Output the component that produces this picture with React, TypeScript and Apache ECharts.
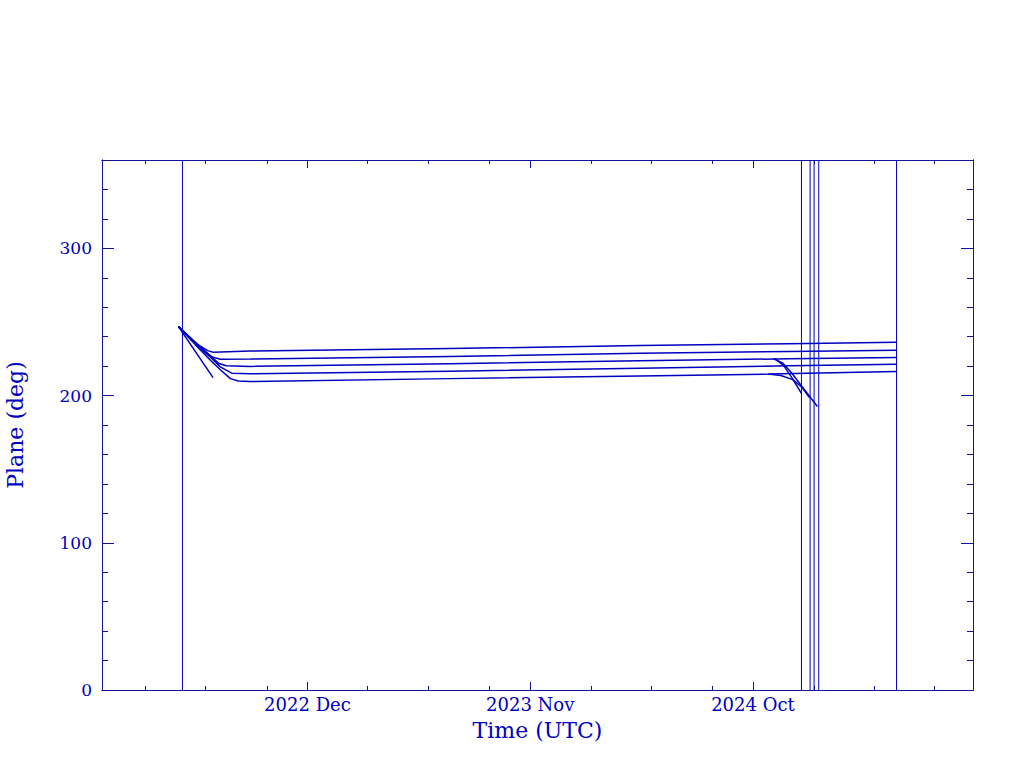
import React, { useEffect, useRef } from 'react';
import * as echarts from 'echarts';

// ---------- data ----------
const xMinDate = '2022-01-26';
const xMaxDate = '2025-08-28';
const yMin = 0;
const yMax = 360;

const majorTickDates = ['2022-12-01', '2023-11-01', '2024-10-01'];
const majorTickLabels = ['2022 Dec', '2023 Nov', '2024 Oct'];
const minorTickDates = [
  '2022-04-01', '2022-07-01', '2022-10-01',
  '2023-03-01', '2023-06-01', '2023-09-01',
  '2024-02-01', '2024-05-01', '2024-08-01',
  '2025-01-01', '2025-04-01', '2025-07-01',
];
const yMajorTicks = [0, 100, 200, 300];
const yMinorTicks = [20, 40, 60, 80, 120, 140, 160, 180, 220, 240, 260, 280, 320, 340];

const plane1Dates = ['2022-05-21', '2022-06-08', '2022-06-23', '2022-07-04', '2022-07-12', '2022-09-06', '2023-07-03', '2024-04-14', '2024-11-25', '2025-05-05'];
const plane1Values = [246.8, 238.5, 233.5, 230.5, 229.4, 230.2, 231.9, 234.0, 235.2, 236.2];

const plane2Dates = ['2022-05-21', '2022-06-15', '2022-07-01', '2022-07-11', '2022-07-23', '2022-09-06', '2023-07-03', '2024-04-14', '2024-11-25', '2025-05-05'];
const plane2Values = [246.8, 236.0, 229.5, 226.2, 224.6, 224.8, 226.6, 228.7, 229.9, 230.7];

const plane3Dates = ['2022-05-21', '2022-06-23', '2022-07-08', '2022-07-20', '2022-08-01', '2022-09-06', '2023-07-03', '2024-04-14', '2024-11-25', '2025-05-05'];
const plane3Values = [246.8, 233.0, 227.0, 222.0, 220.2, 219.8, 221.6, 223.6, 225.0, 225.9];

const plane4Dates = ['2022-05-21', '2022-06-23', '2022-07-08', '2022-07-23', '2022-08-09', '2022-09-06', '2023-07-03', '2024-04-14', '2024-11-25', '2025-05-05'];
const plane4Values = [246.8, 232.0, 226.0, 219.5, 215.2, 214.8, 216.5, 218.6, 220.2, 221.2];

const plane5Dates = ['2022-05-21', '2022-06-23', '2022-07-08', '2022-07-23', '2022-08-07', '2022-08-19', '2022-09-06', '2023-07-03', '2024-04-14', '2024-10-26', '2025-05-05'];
const plane5Values = [246.8, 231.0, 224.0, 217.5, 211.5, 209.9, 209.5, 211.5, 213.3, 214.6, 216.3];

const decayEarlyDates = ['2022-05-21', '2022-06-15', '2022-07-12'];
const decayEarlyValues = [246.8, 230.2, 212.2];

const decayLate1Dates = ['2024-11-01', '2024-11-15', '2024-11-28', '2024-12-14', '2025-01-06'];
const decayLate1Values = [225.0, 222.0, 215.5, 206.0, 192.6];

const decayLate2Dates = ['2024-11-03', '2024-11-16', '2024-11-28', '2024-12-13'];
const decayLate2Values = [225.0, 220.5, 212.5, 201.5];

const decayLate3Dates = ['2024-10-24', '2024-11-12', '2024-11-30', '2024-12-14', '2024-12-25'];
const decayLate3Values = [214.6, 213.6, 210.8, 205.5, 198.6];

const eventDates = ['2022-05-27', '2024-12-13', '2024-12-26', '2025-01-01', '2025-01-08', '2025-05-05'];

// ---------- style ----------
const BLUE = '#0000c0';
const AXIS = '#12129c';
const FONT = '"DejaVu Serif", "Liberation Serif", serif';

const t = (s: string) => Date.parse(s + 'T00:00:00Z');

const curves: [string[], number[]][] = [
  [plane1Dates, plane1Values],
  [plane2Dates, plane2Values],
  [plane3Dates, plane3Values],
  [plane4Dates, plane4Values],
  [plane5Dates, plane5Values],
  [decayEarlyDates, decayEarlyValues],
  [decayLate1Dates, decayLate1Values],
  [decayLate2Dates, decayLate2Values],
  [decayLate3Dates, decayLate3Values],
];

function buildOption() {
  const majorVals = majorTickDates.map(t);
  const minorVals = minorTickDates.map(t);

  const xAxisOf = (position: string, ticks: number[], len: number, labels: boolean) => ({
    type: 'value',
    position,
    min: t(xMinDate),
    max: t(xMaxDate),
    axisLine: { show: true, onZero: false, lineStyle: { color: AXIS, width: 1 } },
    axisTick: { show: true, inside: true, length: len, customValues: ticks, lineStyle: { color: AXIS, width: 1 } },
    axisLabel: labels
      ? {
          show: true,
          customValues: majorVals,
          color: BLUE,
          fontFamily: FONT,
          fontSize: 18,
          margin: 5,
          formatter: (v: number) => {
            const i = majorVals.indexOf(v);
            return i >= 0 ? majorTickLabels[i] : '';
          },
        }
      : { show: false },
    splitLine: { show: false },
    ...(labels
      ? {
          name: 'Time (UTC)',
          nameLocation: 'middle',
          nameGap: 29,
          nameTextStyle: { color: BLUE, fontFamily: FONT, fontSize: 22 },
        }
      : {}),
  });

  const yAxisOf = (position: string, ticks: number[], len: number, labels: boolean) => ({
    type: 'value',
    position,
    min: yMin,
    max: yMax,
    axisLine: { show: true, onZero: false, lineStyle: { color: AXIS, width: 1 } },
    axisTick: { show: true, inside: true, length: len, customValues: ticks, lineStyle: { color: AXIS, width: 1 } },
    axisLabel: labels
      ? { show: true, customValues: yMajorTicks, color: BLUE, fontFamily: FONT, fontSize: 17, margin: 10 }
      : { show: false },
    splitLine: { show: false },
    ...(labels
      ? {
          name: 'Plane (deg)',
          nameLocation: 'middle',
          nameRotate: 90,
          nameGap: 76,
          nameTextStyle: { color: BLUE, fontFamily: FONT, fontSize: 22 },
        }
      : {}),
  });

  const lineSeries = curves.map(([dates, values], i) => ({
    type: 'line',
    name: 'track' + i,
    xAxisIndex: 0,
    yAxisIndex: 0,
    showSymbol: false,
    symbol: 'none',
    smooth: false,
    lineStyle: { color: BLUE, width: 1.5 },
    data: dates.map((d, k) => [t(d), values[k]]),
  }));

  const eventSeries = eventDates.map((d, i) => ({
    type: 'line',
    name: 'event' + i,
    xAxisIndex: 0,
    yAxisIndex: 0,
    showSymbol: false,
    symbol: 'none',
    lineStyle: { color: BLUE, width: 1 },
    data: [
      [t(d), yMin],
      [t(d), yMax],
    ],
  }));

  return {
    animation: false,
    backgroundColor: '#ffffff',
    textStyle: { fontFamily: FONT },
    grid: { left: 102, right: 51, top: 160, bottom: 78, containLabel: false, outerBoundsMode: 'none' },
    xAxis: [
      xAxisOf('bottom', majorVals, 8, true),
      xAxisOf('bottom', minorVals, 4, false),
      xAxisOf('top', majorVals, 8, false),
      xAxisOf('top', minorVals, 4, false),
    ],
    yAxis: [
      yAxisOf('left', yMajorTicks, 12, true),
      yAxisOf('left', yMinorTicks, 6, false),
      yAxisOf('right', yMajorTicks, 12, false),
      yAxisOf('right', yMinorTicks, 6, false),
    ],
    series: [...lineSeries, ...eventSeries],
  };
}

export default function App() {
  const ref = useRef<HTMLDivElement>(null);
  useEffect(() => {
    if (!ref.current) return;
    const chart = echarts.init(ref.current, undefined, { renderer: 'svg' });
    chart.setOption(buildOption() as any);
    return () => chart.dispose();
  }, []);
  return (
    <div
      ref={ref}
      style={{ position: 'fixed', left: 0, top: 0, width: 1024, height: 768, background: '#ffffff' }}
    />
  );
}
